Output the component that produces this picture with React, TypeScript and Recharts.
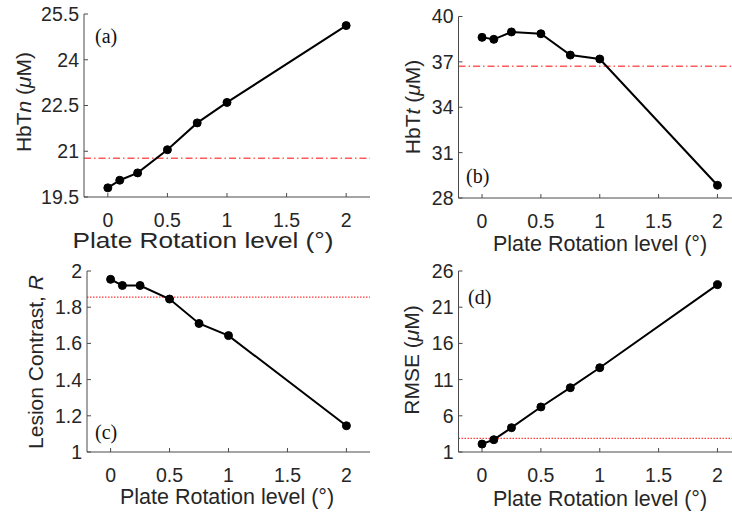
import React from 'react';
import { LineChart, Line, XAxis, YAxis, ReferenceLine } from 'recharts';

// ---- data ----
const rotationLevels = [0, 0.1, 0.25, 0.5, 0.75, 1, 2];
const hbtnValues = [19.8, 20.05, 20.29, 21.05, 21.93, 22.6, 25.12];
const hbtnReference = 20.77;
const hbttValues = [38.62, 38.49, 38.98, 38.86, 37.45, 37.19, 28.84];
const hbttReference = 36.71;
const contrastValues = [1.954, 1.92, 1.92, 1.845, 1.71, 1.643, 1.145];
const contrastReference = 1.856;
const rmseValues = [2.1, 2.7, 4.36, 7.22, 9.88, 12.64, 24.11];
const rmseReference = 2.89;

const rotationTicks = [0, 0.5, 1, 1.5, 2];
const rotationDomain = [-0.2, 2.2];
const hbtnTicks = [19.5, 21, 22.5, 24, 25.5];
const hbttTicks = [28, 31, 34, 37, 40];
const contrastTicks = [1, 1.2, 1.4, 1.6, 1.8, 2];
const rmseTicks = [1, 6, 11, 16, 21, 26];
const xLabelText = 'Plate Rotation level (°)';

type Part = { t: string; i?: boolean };
const hbtnLabel: Part[] = [{ t: 'HbT' }, { t: 'n', i: true }, { t: ' (' }, { t: 'μ', i: true }, { t: 'M)' }];
const hbttLabel: Part[] = [{ t: 'HbT' }, { t: 't', i: true }, { t: ' (' }, { t: 'μ', i: true }, { t: 'M)' }];
const contrastLabel: Part[] = [{ t: 'Lesion Contrast, ' }, { t: 'R', i: true }];
const rmseLabel: Part[] = [{ t: 'RMSE (' }, { t: 'μ', i: true }, { t: 'M)' }];

const build = (vals: number[]) => rotationLevels.map((x, k) => ({ x, v: vals[k] }));

const SANS = '"Liberation Sans", Arial, Helvetica, sans-serif';
const SERIF = '"Liberation Serif", "Times New Roman", serif';
const AXIS = '#4a4a4a';
const TEXT = '#262626';
const RED = '#ff3b3b';

type PanelProps = {
  values: number[];
  reference: number;
  ticks: number[];
  yLabel: Part[];
  letter: string;
  dash: string;
  redColor: string;
  box: { left: number; top: number; width: number; height: number };
  plot: { left: number; top: number; right: number; bottom: number };
  yLabelPos: { x: number; y: number };
  xLabelPos: { x: number; y: number; size: number; length?: number };
  letterPos: { x: number; y: number };
};

function Panel(p: PanelProps) {
  const { box, plot } = p;
  const data = build(p.values);
  const yDomain = [p.ticks[0], p.ticks[p.ticks.length - 1]];
  const yAxisW = plot.left - box.left;
  const xAxisH = box.top + box.height - plot.bottom;
  const margin = { top: plot.top - box.top, right: box.left + box.width - plot.right, left: 0, bottom: 0 };
  const tickStyle = { fontFamily: SANS, fontSize: 19.5, fill: TEXT };
  const yLabelRender = () => (
    <g>
      <text
        transform={`translate(${p.yLabelPos.x - box.left},${p.yLabelPos.y - box.top}) rotate(-90)`}
        textAnchor="middle"
        fontFamily={SANS}
        fontSize={21}
        fill={TEXT}
      >
        {p.yLabel.map((part, k) => (
          <tspan key={k} fontStyle={part.i ? 'italic' : 'normal'}>{part.t}</tspan>
        ))}
      </text>
      <text x={p.letterPos.x - box.left} y={p.letterPos.y - box.top} fontFamily={SERIF} fontSize={20} fill="#111">
        {p.letter}
      </text>
    </g>
  );
  const xLabelRender = () => (
    <text
      x={p.xLabelPos.x - box.left}
      y={p.xLabelPos.y - box.top}
      textAnchor="middle"
      fontFamily={SANS}
      fontSize={p.xLabelPos.size}
      fill={TEXT}
      {...(p.xLabelPos.length ? { textLength: p.xLabelPos.length, lengthAdjust: 'spacingAndGlyphs' } : {})}
    >
      {xLabelText}
    </text>
  );
  return (
    <div style={{ position: 'absolute', left: box.left, top: box.top, width: box.width, height: box.height }}>
      <LineChart width={box.width} height={box.height} data={data} margin={margin}>
        <XAxis
          xAxisId="b"
          dataKey="x"
          type="number"
          domain={rotationDomain}
          ticks={rotationTicks}
          interval={0}
          allowDataOverflow
          height={xAxisH}
          tickSize={-4}
          tickMargin={20}
          stroke={AXIS}
          tick={tickStyle}
          tickLine={{ stroke: AXIS }}
          axisLine={{ stroke: AXIS }}
          label={xLabelRender}
        />
        <XAxis
          xAxisId="t"
          orientation="top"
          dataKey="x"
          type="number"
          domain={rotationDomain}
          ticks={rotationTicks}
          interval={0}
          allowDataOverflow
          height={0}
          tickSize={-4}
          tick={false}
          stroke={AXIS}
          tickLine={{ stroke: AXIS }}
          axisLine={{ stroke: AXIS }}
        />
        <YAxis
          yAxisId="l"
          type="number"
          domain={yDomain}
          ticks={p.ticks}
          interval={0}
          allowDataOverflow
          width={yAxisW}
          tickSize={-4}
          tickMargin={9}
          stroke={AXIS}
          tick={tickStyle}
          tickLine={{ stroke: AXIS }}
          axisLine={{ stroke: AXIS }}
          label={yLabelRender}
        />
        <YAxis
          yAxisId="r"
          orientation="right"
          type="number"
          domain={yDomain}
          ticks={p.ticks}
          interval={0}
          allowDataOverflow
          width={0}
          tickSize={-4}
          tick={false}
          stroke={AXIS}
          tickLine={{ stroke: AXIS }}
          axisLine={{ stroke: AXIS }}
        />
        <ReferenceLine
          xAxisId="b"
          yAxisId="l"
          y={p.reference}
          stroke={p.redColor}
          strokeWidth={1.3}
          strokeDasharray={p.dash}
        />
        <Line
          xAxisId="b"
          yAxisId="l"
          dataKey="v"
          stroke="#000"
          strokeWidth={2}
          dot={{ r: 4, fill: '#000', stroke: '#000', strokeWidth: 1 }}
          isAnimationActive={false}
        />
      </LineChart>
    </div>
  );
}

export default function App() {
  return (
    <div style={{ position: 'absolute', left: 0, top: 0, width: 732, height: 513, overflow: 'hidden', background: '#fff' }}>
      <Panel
        values={hbtnValues}
        reference={hbtnReference}
        ticks={hbtnTicks}
        yLabel={hbtnLabel}
        letter="(a)"
        dash="7 3 1.5 3"
        redColor="#ff5a5a"
        box={{ left: 0, top: 0, width: 380, height: 256 }}
        plot={{ left: 84, top: 14, right: 370, bottom: 197 }}
        yLabelPos={{ x: 31, y: 102 }}
        xLabelPos={{ x: 203, y: 248, size: 21.5, length: 261 }}
        letterPos={{ x: 95, y: 43 }}
      />
      <Panel
        values={hbttValues}
        reference={hbttReference}
        ticks={hbttTicks}
        yLabel={hbttLabel}
        letter="(b)"
        dash="7 3 1.5 3"
        redColor="#ff5a5a"
        box={{ left: 370, top: 0, width: 380, height: 256 }}
        plot={{ left: 458.5, top: 16.5, right: 741, bottom: 198 }}
        yLabelPos={{ x: 420, y: 107 }}
        xLabelPos={{ x: 600, y: 251, size: 21.5 }}
        letterPos={{ x: 466, y: 183 }}
      />
      <Panel
        values={contrastValues}
        reference={contrastReference}
        ticks={contrastTicks}
        yLabel={contrastLabel}
        letter="(c)"
        dash="1.5 1.5"
        redColor={RED}
        box={{ left: 0, top: 256, width: 380, height: 257 }}
        plot={{ left: 87, top: 271, right: 370, bottom: 452 }}
        yLabelPos={{ x: 43, y: 362 }}
        xLabelPos={{ x: 227, y: 504, size: 21.5 }}
        letterPos={{ x: 95, y: 439 }}
      />
      <Panel
        values={rmseValues}
        reference={rmseReference}
        ticks={rmseTicks}
        yLabel={rmseLabel}
        letter="(d)"
        dash="1.5 1.5"
        redColor={RED}
        box={{ left: 370, top: 256, width: 380, height: 257 }}
        plot={{ left: 458.5, top: 271, right: 741, bottom: 452 }}
        yLabelPos={{ x: 419, y: 360 }}
        xLabelPos={{ x: 600, y: 506, size: 21.5 }}
        letterPos={{ x: 468, y: 304 }}
      />
    </div>
  );
}
